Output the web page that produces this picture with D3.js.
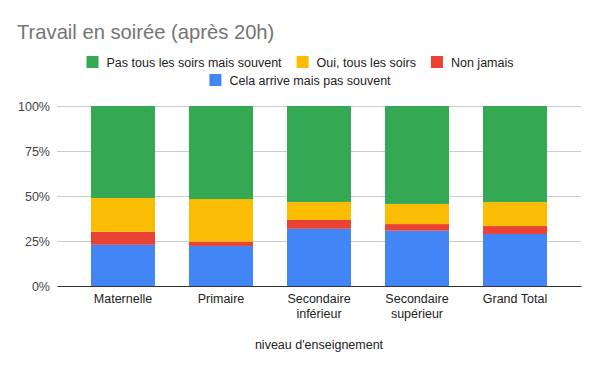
<!DOCTYPE html>
<html>
<head>
<meta charset="utf-8">
<script src="https://cdn.jsdelivr.net/npm/d3@7"></script>
<style>
  body { margin: 0; background: #fff; }
  text { font-family: "Liberation Sans", Arial, sans-serif; }
</style>
</head>
<body>
<div id="chart"></div>
<script>
// categories and series (percent of each bar)
const categories = ["Maternelle", "Primaire", "Secondaire inférieur", "Secondaire supérieur", "Grand Total"]
const catLines = [["Maternelle"], ["Primaire"], ["Secondaire", "inférieur"], ["Secondaire", "supérieur"], ["Grand Total"]]
const seriesNames = ["Cela arrive mais pas souvent", "Non jamais", "Oui, tous les soirs", "Pas tous les soirs mais souvent"]
const celaArrive = [22.9, 22.2, 31.8, 30.7, 28.9]
const nonJamais = [7.3, 2.4, 4.9, 3.7, 4.4]
const ouiTous = [18.7, 23.7, 10.0, 11.2, 13.4]
const pasTous = [51.1, 51.7, 53.3, 54.4, 53.3]
const colors = ["#4285f4", "#ea4335", "#fbbc04", "#34a853"]
const yTicks = [0, 0.25, 0.5, 0.75, 1]

const W = 600, H = 371
const margin = { top: 106, right: 19, bottom: 85, left: 57 }
const width = W - margin.left - margin.right
const height = H - margin.top - margin.bottom
const fs = 12.5

const svg = d3.select("#chart").append("svg")
  .attr("width", W).attr("height", H)

// title
svg.append("text")
  .attr("x", 17).attr("y", 39)
  .attr("font-size", 20.2)
  .attr("fill", "#757575")
  .text("Travail en soirée (après 20h)")

const rows = categories.map((c, i) => ({
  cat: c,
  s0: celaArrive[i], s1: nonJamais[i], s2: ouiTous[i], s3: pasTous[i]
}))
rows.forEach(r => {
  const tot = r.s0 + r.s1 + r.s2 + r.s3
  ;["s0", "s1", "s2", "s3"].forEach(k => r[k] = r[k] / tot)
})
const stacked = d3.stack().keys(["s0", "s1", "s2", "s3"])(rows)

const x = d3.scaleBand().domain(categories).range([0, width]).paddingInner(0.347).paddingOuter(0.347)
const y = d3.scaleLinear().domain([0, 1]).range([height, 0])

const g = svg.append("g").attr("transform", "translate(" + margin.left + "," + margin.top + ")")

// gridlines + y labels
const yAxis = g.append("g")
  .call(d3.axisLeft(y).tickValues(yTicks).tickSize(-width).tickFormat(d3.format(".0%")))
yAxis.select(".domain").remove()
yAxis.selectAll(".tick line").attr("stroke", "#cccccc")
yAxis.selectAll(".tick text")
  .attr("x", -7).attr("font-size", fs).attr("fill", "#444")
  .style("font-family", "Liberation Sans, Arial, sans-serif")

// bars
g.selectAll("g.layer")
  .data(stacked)
  .enter().append("g")
  .attr("class", "layer")
  .attr("fill", (d, i) => colors[i])
  .selectAll("rect")
  .data(d => d)
  .enter().append("rect")
  .attr("x", d => x(d.data.cat))
  .attr("width", x.bandwidth())
  .attr("y", d => y(d[1]))
  .attr("height", d => y(d[0]) - y(d[1]))

// x axis
const xAxis = g.append("g")
  .attr("transform", "translate(0," + height + ")")
  .call(d3.axisBottom(x).tickSize(0).tickFormat(""))
xAxis.select(".domain").attr("stroke", "#333").attr("stroke-width", 1)

categories.forEach((c, i) => {
  const t = g.append("text")
    .attr("x", x(c) + x.bandwidth() / 2)
    .attr("y", height + 17)
    .attr("text-anchor", "middle")
    .attr("font-size", fs)
    .attr("fill", "#222")
  catLines[i].forEach((ln, j) => {
    t.append("tspan").attr("x", x(c) + x.bandwidth() / 2).attr("dy", j === 0 ? 0 : 15).text(ln)
  })
})

svg.append("text")
  .attr("x", margin.left + width / 2).attr("y", 349)
  .attr("text-anchor", "middle")
  .attr("font-size", fs)
  .attr("fill", "#222")
  .text("niveau d'enseignement")

// legend: two centred rows
const legendRows = [[3, 2, 1], [0]]
const legendY = [62, 80]
legendRows.forEach((items, r) => {
  const lg = svg.append("g")
  let cx = 0
  items.forEach(k => {
    const it = lg.append("g").attr("transform", "translate(" + cx + ",0)")
    it.append("rect").attr("x", 0).attr("y", -6).attr("width", 12).attr("height", 12).attr("fill", colors[k])
    const tx = it.append("text").attr("x", 20).attr("y", 4.5)
      .attr("font-size", fs).attr("fill", "#222").text(seriesNames[k])
    cx += 20 + tx.node().getComputedTextLength() + 15
  })
  const total = cx - 15
  lg.attr("transform", "translate(" + (W / 2 - total / 2) + "," + legendY[r] + ")")
})
</script>
</body>
</html>
